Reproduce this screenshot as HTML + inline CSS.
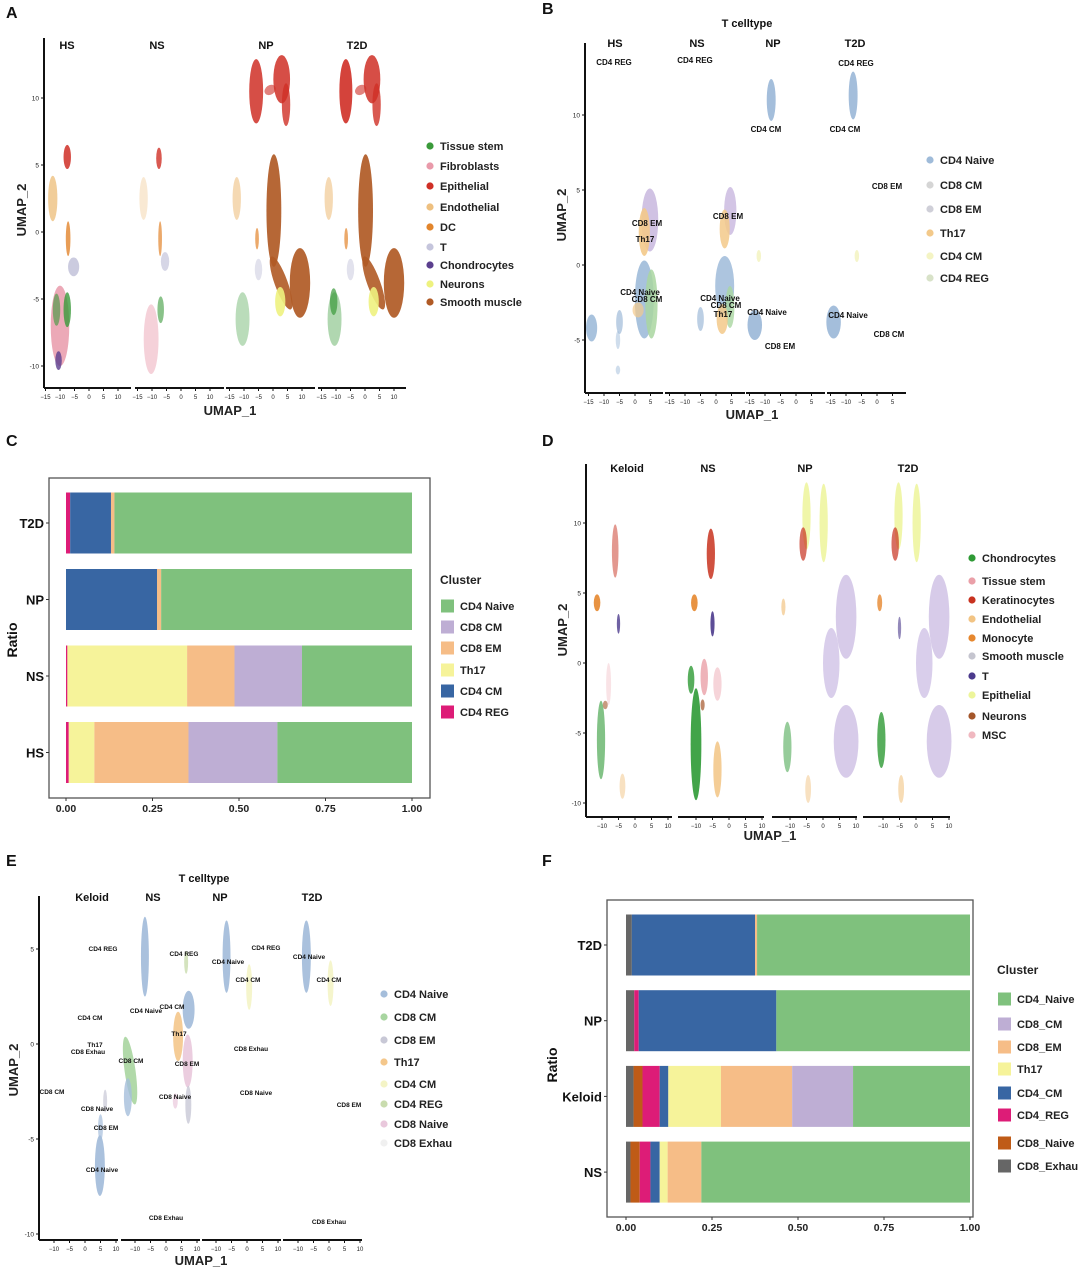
<!DOCTYPE html>
<html><head><meta charset="utf-8">
<style>
html,body{margin:0;padding:0;background:#fff;}
svg{display:block;font-family:"Liberation Sans",sans-serif;}
</style></head>
<body>
<svg id="fig" width="1080" height="1269" viewBox="0 0 1080 1269" xmlns="http://www.w3.org/2000/svg">
<rect x="0" y="0" width="1080" height="1269" fill="#fff"/>
<g font-weight="bold" font-size="16" fill="#111">
<text x="6" y="18">A</text>
<text x="542" y="14">B</text>
<text x="6" y="446">C</text>
<text x="542" y="446">D</text>
<text x="6" y="866">E</text>
<text x="542" y="866">F</text>
</g>
</svg>
<script>
const NS='http://www.w3.org/2000/svg';
const svg=document.getElementById('fig');
function mk(tag,attrs,parent){const e=document.createElementNS(NS,tag);for(const k in attrs)e.setAttribute(k,attrs[k]);(parent||svg).appendChild(e);return e;}
function txt(s,attrs,parent){const e=mk('text',attrs,parent);e.textContent=s;return e;}

/* ---------- bar chart C data ---------- */
const cCategories=['T2D','NP','NS','HS'];
const cSeriesNames=['CD4 REG','CD4 CM','Th17','CD8 EM','CD8 CM','CD4 Naive'];
const cReg=[0.012,0,0.004,0.008];
const cCm=[0.118,0.263,0,0];
const cTh17=[0,0,0.346,0.074];
const cEm=[0.01,0.012,0.137,0.272];
const cCm8=[0,0,0.195,0.257];
const cNaive=[0.86,0.725,0.318,0.389];
const cTicks=['0.00','0.25','0.50','0.75','1.00'];
const cLegend=['CD4 Naive','CD8 CM','CD8 EM','Th17','CD4 CM','CD4 REG'];

/* ---------- bar chart F data ---------- */
const fCategories=['T2D','NP','Keloid','NS'];
const fSeriesNames=['CD8_Exhau','CD8_Naive','CD4_REG','CD4_CM','Th17','CD8_EM','CD8_CM','CD4_Naive'];
const fExhau=[0.017,0.024,0.022,0.013];
const fNaive8=[0,0,0.026,0.027];
const fReg=[0,0.013,0.05,0.031];
const fCm=[0.358,0.40,0.025,0.027];
const fTh17=[0,0,0.153,0.023];
const fEm=[0.006,0,0.207,0.098];
const fCm8=[0,0,0.177,0];
const fNaive=[0.619,0.563,0.34,0.781];
const fTicks=['0.00','0.25','0.50','0.75','1.00'];
const fLegend=['CD4_Naive','CD8_CM','CD8_EM','Th17','CD4_CM','CD4_REG','CD8_Naive','CD8_Exhau'];

const COL={naive:'#7fc17d',cm8:'#beaed4',em:'#f6bd87',th17:'#f6f39a',cm4:'#3866a3',reg:'#dd1c77',n8:'#bf5b17',ex:'#666666'};

function barChart(o){
  const g=mk('g',{});
  
  
  const frame=mk('rect',{x:o.box[0],y:o.box[1],width:o.box[2]-o.box[0],height:o.box[3]-o.box[1],fill:'none',stroke:'#555','stroke-width':1.3},g);
  
  
  const xs=v=>o.x0+v*(o.x1-o.x0);
  const yc=i=>o.yFirst+i*o.yStep;
  o.cats.forEach((c,i)=>{
    let tot=0;o.series.forEach(s=>tot+=s[i]);
    let acc=0;
    o.series.forEach((s,j)=>{
      const v=s[i]/tot;
      if(v<=0)return;
      const r=mk('rect',{x:xs(acc),y:yc(i)-o.h/2,width:xs(acc+v)-xs(acc),height:o.h,fill:o.colors[j]},g);
      
      
      acc+=v;
    });
    const t=txt(c,{x:o.box[0]-5,y:yc(i)+5,'text-anchor':'end','font-size':13,'font-weight':'bold',fill:'#111'},g);
    
    
    mk('line',{x1:o.box[0]-3,x2:o.box[0],y1:yc(i),y2:yc(i),stroke:'#333'},g);
  });
  o.ticks.forEach(tk=>{
    const v=parseFloat(tk);
    mk('line',{x1:xs(v),x2:xs(v),y1:o.box[3],y2:o.box[3]+3,stroke:'#333'},g);
    const t=txt(tk,{x:xs(v),y:o.box[3]+14,'text-anchor':'middle','font-size':10.5,'font-weight':'bold',fill:'#222'},g);
    
    
  });
  const yt=txt('Ratio',{x:0,y:0,transform:'translate('+o.ratio[0]+','+o.ratio[1]+') rotate(-90)','text-anchor':'middle','font-size':14,'font-weight':'bold',fill:'#111'},g);
  
  
  const lt=txt('Cluster',{x:o.leg[0],y:o.leg[1],'font-size':12,'font-weight':'bold',fill:'#222'},g);
  
  
  o.legNames.forEach((n,k)=>{
    const cy=o.legY[k];
    const lg=mk('g',{},g);
    
    
    mk('rect',{x:o.leg[0]+1,y:cy-6.5,width:13,height:13,fill:o.legColors[k]},lg);
    txt(n,{x:o.leg[0]+20,y:cy+4,'font-size':11,'font-weight':'bold',fill:'#222'},lg);
  });
}

barChart({name:'bar-chart-c',box:[49,478,430,798],x0:66,x1:412,yFirst:523,yStep:76.5,h:61,
  cats:cCategories,names:cSeriesNames,series:[cReg,cCm,cTh17,cEm,cCm8,cNaive],
  colors:[COL.reg,COL.cm4,COL.th17,COL.em,COL.cm8,COL.naive],ticks:cTicks,ratio:[17,640],
  leg:[440,584],legNames:cLegend,legY:[606,627,648,670,691,712],
  legColors:[COL.naive,COL.cm8,COL.em,COL.th17,COL.cm4,COL.reg]});

barChart({name:'bar-chart-f',box:[607,900,973,1217],x0:626,x1:970,yFirst:945,yStep:75.7,h:61,
  cats:fCategories,names:fSeriesNames,series:[fExhau,fNaive8,fReg,fCm,fTh17,fEm,fCm8,fNaive],
  colors:[COL.ex,COL.n8,COL.reg,COL.cm4,COL.th17,COL.em,COL.cm8,COL.naive],ticks:fTicks,ratio:[557,1065],
  leg:[997,974],legNames:fLegend,legY:[999,1024,1047,1069,1093,1115,1143,1166],
  legColors:[COL.naive,COL.cm8,COL.em,COL.th17,COL.cm4,COL.reg,COL.n8,COL.ex]});

/* ---------- UMAP panels ---------- */
function umap(o){
  const g=mk('g',{});
  
  
  const X=(f,v)=>o.facets[f][2]+v*o.xUnit;
  const Y=v=>o.yZero-v*o.yUnit;
  o.blobs.forEach(b=>{
    const cx=X(b[0],b[1]),cy=Y(b[2]);
    const e=mk('ellipse',{cx:cx,cy:cy,rx:b[3]*o.xUnit*o.rxF,ry:b[4]*o.yUnit,fill:b[6],'fill-opacity':b[7],transform:'rotate('+b[5]+' '+cx+' '+cy+')'},g);
    
    
  });
  mk('line',{x1:o.yAxisX,x2:o.yAxisX,y1:o.top,y2:o.bottom,stroke:'#111','stroke-width':2},g);
  o.yTicks.forEach(v=>{
    mk('line',{x1:o.yAxisX-3,x2:o.yAxisX,y1:Y(v),y2:Y(v),stroke:'#111'},g);
    const t=txt(String(v),{x:o.yAxisX-5,y:Y(v)+2.5,'text-anchor':'end','font-size':6.5,fill:'#222'},g);
    
    
  });
  o.facets.forEach((f,i)=>{
    mk('line',{x1:f[0],x2:f[1],y1:o.bottom,y2:o.bottom,stroke:'#111','stroke-width':2},g);
    o.xTicks.forEach(v=>{
      const x=X(i,v);
      mk('line',{x1:x,x2:x,y1:o.bottom,y2:o.bottom+3,stroke:'#111'},g);
      const t=txt(v<0?'\u2212'+(-v):String(v),{x:x,y:o.bottom+11,'text-anchor':'middle','font-size':6,fill:'#222'},g);
      
      
    });
    const ft=txt(o.titles[i],{x:o.titlePos[i],y:o.titleY,'text-anchor':'middle','font-size':11,'font-weight':'bold',fill:'#111'},g);
    
    
  });
  const xt=txt('UMAP_1',{x:o.xTitle[0],y:o.xTitle[1],'text-anchor':'middle','font-size':13,'font-weight':'bold',fill:'#222'},g);
  
  
  const yt=txt('UMAP_2',{x:0,y:0,transform:'translate('+o.yTitle[0]+','+o.yTitle[1]+') rotate(-90)','text-anchor':'middle','font-size':13,'font-weight':'bold',fill:'#222'},g);
  
  
  if(o.main){
    const mt=txt(o.main[0],{x:o.main[1],y:o.main[2],'text-anchor':'middle','font-size':11,'font-weight':'bold',fill:'#111'},g);
    
    
  }
  (o.labels||[]).forEach(l=>{
    const t=txt(l[0],{x:l[1],y:l[2],'text-anchor':'middle','font-size':o.labelSize,'font-weight':'bold',fill:'#111'},g);
    
    
  });
  o.legend.forEach((l,k)=>{
    const lg=mk('g',{},g);
    
    
    mk('circle',{cx:o.legX,cy:o.legY[k],r:3.6,fill:l[1]},lg);
    txt(l[0],{x:o.legX+10,y:o.legY[k]+4,'font-size':11,'font-weight':'bold',fill:'#222'},lg);
  });
}

/* Panel A */
const aC={ts:'#3a9a3a',fb:'#e99aaa',ep:'#cf2f26',en:'#eec080',dc:'#e2852c',t:'#c5c5dc',ch:'#5b3f8e',ne:'#eef27f',sm:'#b05a25'};
const aBlobs=[
 [0,-7.5,5.6,0.8,0.9,0,aC.ep,0.85],[0,-12.5,2.5,1,1.7,0,aC.en,0.8],[0,-7.2,-0.5,0.5,1.3,0,aC.dc,0.8],[0,-5.3,-2.6,1.2,0.7,0,aC.t,0.9],
 [0,-10,-7,2,3,0,aC.fb,0.85],[0,-7.5,-5.8,0.8,1.3,0,aC.ts,0.8],[0,-11.2,-5.8,0.8,1.2,0,aC.ts,0.6],[0,-10.5,-9.6,0.7,0.7,0,aC.ch,0.8],
 [1,-7.6,5.5,0.6,0.8,0,aC.ep,0.8],[1,-12.9,2.5,0.9,1.6,0,aC.en,0.35],[1,-7.2,-0.5,0.4,1.3,0,aC.dc,0.7],[1,-5.5,-2.2,0.9,0.7,0,aC.t,0.7],
 [1,-10.3,-8,1.6,2.6,0,aC.fb,0.45],[1,-7,-5.8,0.7,1,0,aC.ts,0.6],
 [2,-5.8,10.5,1.5,2.4,0,aC.ep,0.85],[2,3,11.4,1.8,1.8,0,aC.ep,0.85],[2,4.5,9.5,0.9,1.6,0,aC.ep,0.8],[2,-1,10.6,1.3,0.35,-35,aC.ep,0.6],
 [2,0.3,1.6,1.6,4.2,0,aC.sm,0.92],[2,2.8,-3.8,1.4,2.1,-20,aC.sm,0.9],[2,9.3,-3.8,2.2,2.6,0,aC.sm,0.92],[2,2.5,-5.2,1.1,1.1,0,aC.ne,0.9],
 [2,-12.5,2.5,0.9,1.6,0,aC.en,0.6],[2,-10.5,-6.5,1.5,2,0,aC.ts,0.35],[2,-5.5,-0.5,0.4,0.8,0,aC.dc,0.7],[2,-5,-2.8,0.8,0.8,0,aC.t,0.5],
 [3,-6.6,10.5,1.4,2.4,0,aC.ep,0.9],[3,2.4,11.4,1.8,1.8,0,aC.ep,0.85],[3,4,9.5,0.9,1.6,0,aC.ep,0.8],[3,-1.5,10.6,1.3,0.35,-35,aC.ep,0.6],
 [3,0.2,1.6,1.6,4.2,0,aC.sm,0.92],[3,3,-3.8,1.4,2.1,-20,aC.sm,0.9],[3,10,-3.8,2.2,2.6,0,aC.sm,0.92],[3,3,-5.2,1.1,1.1,0,aC.ne,0.9],
 [3,-12.5,2.5,0.9,1.6,0,aC.en,0.6],[3,-10.5,-6.5,1.5,2,0,aC.ts,0.4],[3,-10.8,-5.2,0.8,1,0,aC.ts,0.7],[3,-6.5,-0.5,0.4,0.8,0,aC.dc,0.7],[3,-5,-2.8,0.8,0.8,0,aC.t,0.5]
];
umap({name:'umap-panel-a',rxF:1.6,yAxisX:44,yZero:232,yUnit:13.4,yTicks:[10,5,0,-5,-10],top:38,bottom:388,
 facets:[[44,131,89],[135,224,181],[226,315,273],[318,406,365]],xUnit:2.9,xTicks:[-15,-10,-5,0,5,10],
 titles:['HS','NS','NP','T2D'],titlePos:[67,157,266,357],titleY:49,xTitle:[230,415],yTitle:[26,210],
 blobs:aBlobs,legX:430,legY:[146,166,186,207,227,247,265,284,302],
 legend:[['Tissue stem',aC.ts],['Fibroblasts',aC.fb],['Epithelial',aC.ep],['Endothelial',aC.en],['DC',aC.dc],['T',aC.t],['Chondrocytes',aC.ch],['Neurons',aC.ne],['Smooth muscle',aC.sm]]});

/* Panel B */
const bC={n:'#9fbbd9',cm8:'#a9d6a0',em:'#cbbbe0',th:'#f3c98a',cm4:'#f4f4c4',reg:'#d8e2c8'};
const bBlobs=[
 [0,4.8,3,1.5,2.1,0,bC.em,0.9],[0,3,2.2,1,1.6,0,bC.th,0.9],[0,3,-2.3,1.7,2.6,0,bC.n,0.9],[0,5.3,-2.6,1.1,2.3,0,bC.cm8,0.85],[0,1,-3,1,0.5,0,bC.th,0.7],
 [0,-14,-4.2,1,0.9,0,bC.n,0.9],[0,-5,-3.8,0.6,0.8,0,bC.n,0.7],[0,-5.5,-5,0.4,0.6,0,bC.n,0.5],[0,-5.5,-7,0.4,0.3,0,bC.n,0.5],
 [1,4.6,3.6,1.1,1.6,0,bC.em,0.85],[1,2.8,2.4,0.9,1.3,0,bC.th,0.85],[1,2.8,-1.4,1.7,2,0,bC.n,0.85],[1,4.5,-2.8,0.8,1.4,0,bC.cm8,0.8],[1,2,-3.6,1,1,0,bC.th,0.85],[1,-5,-3.6,0.6,0.8,0,bC.n,0.7],
 [2,-8,11,0.8,1.4,0,bC.n,0.95],[2,-13.3,-4,1.3,1,0,bC.n,0.95],[2,-12,0.6,0.4,0.4,0,bC.cm4,0.9],
 [3,-7.7,11.3,0.8,1.6,0,bC.n,0.95],[3,-14,-3.8,1.3,1.1,0,bC.n,0.95],[3,-6.5,0.6,0.4,0.4,0,bC.cm4,0.9]
];
umap({name:'umap-panel-b',rxF:1.8,yAxisX:585,yZero:265,yUnit:15,yTicks:[10,5,0,-5],top:43,bottom:393,
 facets:[[585,663,635],[665,745,716],[746,825,796],[827,906,877]],xUnit:3.1,xTicks:[-15,-10,-5,0,5],
 titles:['HS','NS','NP','T2D'],titlePos:[615,697,773,855],titleY:47,xTitle:[752,419],yTitle:[566,215],main:['T celltype',747,27],
 blobs:bBlobs,labelSize:8,labels:[['CD4 REG',614,65],['CD4 REG',695,63],['CD4 REG',856,66],['CD4 CM',766,132],['CD4 CM',845,132],['CD8 EM',887,189],['CD8 EM',647,226],['Th17',645,242],['CD8 EM',728,219],['CD4 Naive',640,295],['CD8 CM',647,302],['CD4 Naive',720,301],['CD8 CM',726,308],['Th17',723,317],['CD4 Naive',767,315],['CD8 EM',780,349],['CD4 Naive',848,318],['CD8 CM',889,337]],
 legX:930,legY:[160,185,209,233,256,278],
 legend:[['CD4 Naive',bC.n],['CD8 CM','#d5d5d5'],['CD8 EM','#cfcfd8'],['Th17',bC.th],['CD4 CM',bC.cm4],['CD4 REG',bC.reg]]});

/* Panel D */
const dC={ch:'#2e9a35',ts:'#eaa0a8',ke:'#c8321f',en:'#f2c484',mo:'#e6872e',sm:'#c9b9e2',t:'#4b3a8c',ep:'#edf59a',ne:'#a4562a',msc:'#f0b8c0'};
const dBlobs=[
 [0,-6,8,0.8,1.9,0,dC.ke,0.5],[0,-11.5,4.3,0.8,0.6,0,dC.mo,0.9],[0,-5,2.8,0.4,0.7,0,dC.t,0.8],[0,-10.3,-5.5,1,2.8,0,dC.ch,0.6],[0,-3.8,-8.8,0.7,0.9,0,dC.en,0.5],[0,-8,-1.5,0.6,1.5,0,dC.msc,0.4],[0,-9,-3,0.6,0.3,0,dC.ne,0.6],
 [1,-5.5,7.8,1,1.8,0,dC.ke,0.85],[1,-10.5,4.3,0.8,0.6,0,dC.mo,0.9],[1,-5,2.8,0.5,0.9,0,dC.t,0.9],[1,-10,-5.8,1.3,4,0,dC.ch,0.9],[1,-11.5,-1.2,0.8,1,0,dC.ch,0.8],
 [1,-7.5,-1,0.9,1.3,0,dC.ts,0.8],[1,-3.5,-1.5,1,1.2,0,dC.msc,0.6],[1,-3.5,-7.6,1,2,0,dC.en,0.85],[1,-8,-3,0.5,0.4,0,dC.ne,0.7],
 [2,-5,10.5,1,2.4,0,dC.ep,0.85],[2,0.2,10,1,2.8,0,dC.ep,0.85],[2,-6,8.5,0.9,1.2,0,dC.ke,0.7],[2,-12,4,0.5,0.6,0,dC.en,0.7],
 [2,7,3.3,2.5,3,0,dC.sm,0.75],[2,2.5,0,2,2.5,0,dC.sm,0.7],[2,7,-5.6,3,2.6,0,dC.sm,0.75],[2,-10.8,-6,1,1.8,0,dC.ch,0.5],[2,-4.5,-9,0.7,1,0,dC.en,0.5],
 [3,-5.3,10.5,1,2.4,0,dC.ep,0.85],[3,0.2,10,1,2.8,0,dC.ep,0.85],[3,-6.3,8.5,0.9,1.2,0,dC.ke,0.7],[3,-11,4.3,0.6,0.6,0,dC.mo,0.8],[3,-5,2.5,0.4,0.8,0,dC.t,0.6],
 [3,7,3.3,2.5,3,0,dC.sm,0.75],[3,2.5,0,2,2.5,0,dC.sm,0.7],[3,7,-5.6,3,2.6,0,dC.sm,0.75],[3,-10.5,-5.5,1,2,0,dC.ch,0.8],[3,-4.5,-9,0.7,1,0,dC.en,0.6]
];
umap({name:'umap-panel-d',rxF:1.25,yAxisX:586,yZero:663,yUnit:14,yTicks:[10,5,0,-5,-10],top:464,bottom:817,
 facets:[[586,672,635],[678,764,729],[772,857,823],[863,950,916]],xUnit:3.3,xTicks:[-10,-5,0,5,10],
 titles:['Keloid','NS','NP','T2D'],titlePos:[627,708,805,908],titleY:472,xTitle:[770,840],yTitle:[567,630],
 blobs:dBlobs,legX:972,legY:[558,581,600,619,638,656,676,695,716,735],
 legend:[['Chondrocytes',dC.ch],['Tissue stem',dC.ts],['Keratinocytes',dC.ke],['Endothelial',dC.en],['Monocyte',dC.mo],['Smooth muscle','#c5c5cf'],['T',dC.t],['Epithelial',dC.ep],['Neurons',dC.ne],['MSC',dC.msc]]});

/* Panel E */
const eC={n:'#a5bedb',cm8:'#a8d5a0',em:'#c8c8d6',th:'#f4c78b',cm4:'#f4f4c6',reg:'#c9dcae',n8:'#e9c8dc',ex:'#f0f0f0'};
const eBlobs=[
 [0,4.8,-6.4,1,1.6,0,eC.n,0.95],[0,5,-4.4,0.5,0.7,0,eC.n,0.7],[0,6.5,-3,0.4,0.6,0,eC.em,0.7],
 [1,-6.8,4.6,0.8,2.1,0,eC.n,0.95],[1,-11.6,-1.4,1.1,1.8,-8,eC.cm8,0.9],[1,-12.3,-2.8,0.8,1,0,eC.n,0.8],[1,3.9,0.4,1,1.3,0,eC.th,0.9],
 [1,7.3,1.8,1.2,1,0,eC.n,0.95],[1,7,-0.9,1,1.4,0,eC.n8,0.9],[1,7.2,-3.2,0.6,1,0,eC.em,0.8],[1,6.5,4.3,0.4,0.6,0,eC.reg,0.8],[1,3,-3,0.5,0.4,0,eC.n8,0.7],
 [2,-6.6,4.6,0.8,1.9,0,eC.n,0.95],[2,0.7,3,0.6,1.2,0,eC.cm4,0.9],
 [3,-7.3,4.6,0.9,1.9,0,eC.n,0.95],[3,0.5,3.2,0.6,1.2,0,eC.cm4,0.9]
];
umap({name:'umap-panel-e',rxF:1.6,yAxisX:39,yZero:1044,yUnit:19,yTicks:[5,0,-5,-10],top:896,bottom:1240,
 facets:[[39,118,85],[121,200,166],[202,281,247],[283,362,329]],xUnit:3.1,xTicks:[-10,-5,0,5,10],
 titles:['Keloid','NS','NP','T2D'],titlePos:[92,153,220,312],titleY:901,xTitle:[201,1265],yTitle:[18,1070],main:['T celltype',204,882],
 blobs:eBlobs,labelSize:6.5,labels:[['CD4 REG',103,951],['CD4 REG',184,956],['CD4 REG',266,950],['CD4 Naive',228,964],['CD4 Naive',309,959],['CD4 CM',248,982],['CD4 CM',329,982],['CD4 Naive',146,1013],['CD4 CM',172,1009],['CD4 CM',90,1020],['Th17',179,1036],['Th17',95,1047],['CD8 Exhau',88,1054],['CD8 Exhau',251,1051],['CD8 CM',131,1063],['CD8 EM',187,1066],['CD8 CM',52,1094],['CD8 Naive',256,1095],['CD8 Naive',175,1099],['CD8 EM',349,1107],['CD8 Naive',97,1111],['CD8 EM',106,1130],['CD4 Naive',102,1172],['CD8 Exhau',166,1220],['CD8 Exhau',329,1224]],
 legX:384,legY:[994,1017,1040,1062,1084,1104,1124,1143],
 legend:[['CD4 Naive',eC.n],['CD8 CM',eC.cm8],['CD8 EM',eC.em],['Th17',eC.th],['CD4 CM',eC.cm4],['CD4 REG',eC.reg],['CD8  Naive',eC.n8],['CD8 Exhau',eC.ex]]});
</script>
</body></html>
